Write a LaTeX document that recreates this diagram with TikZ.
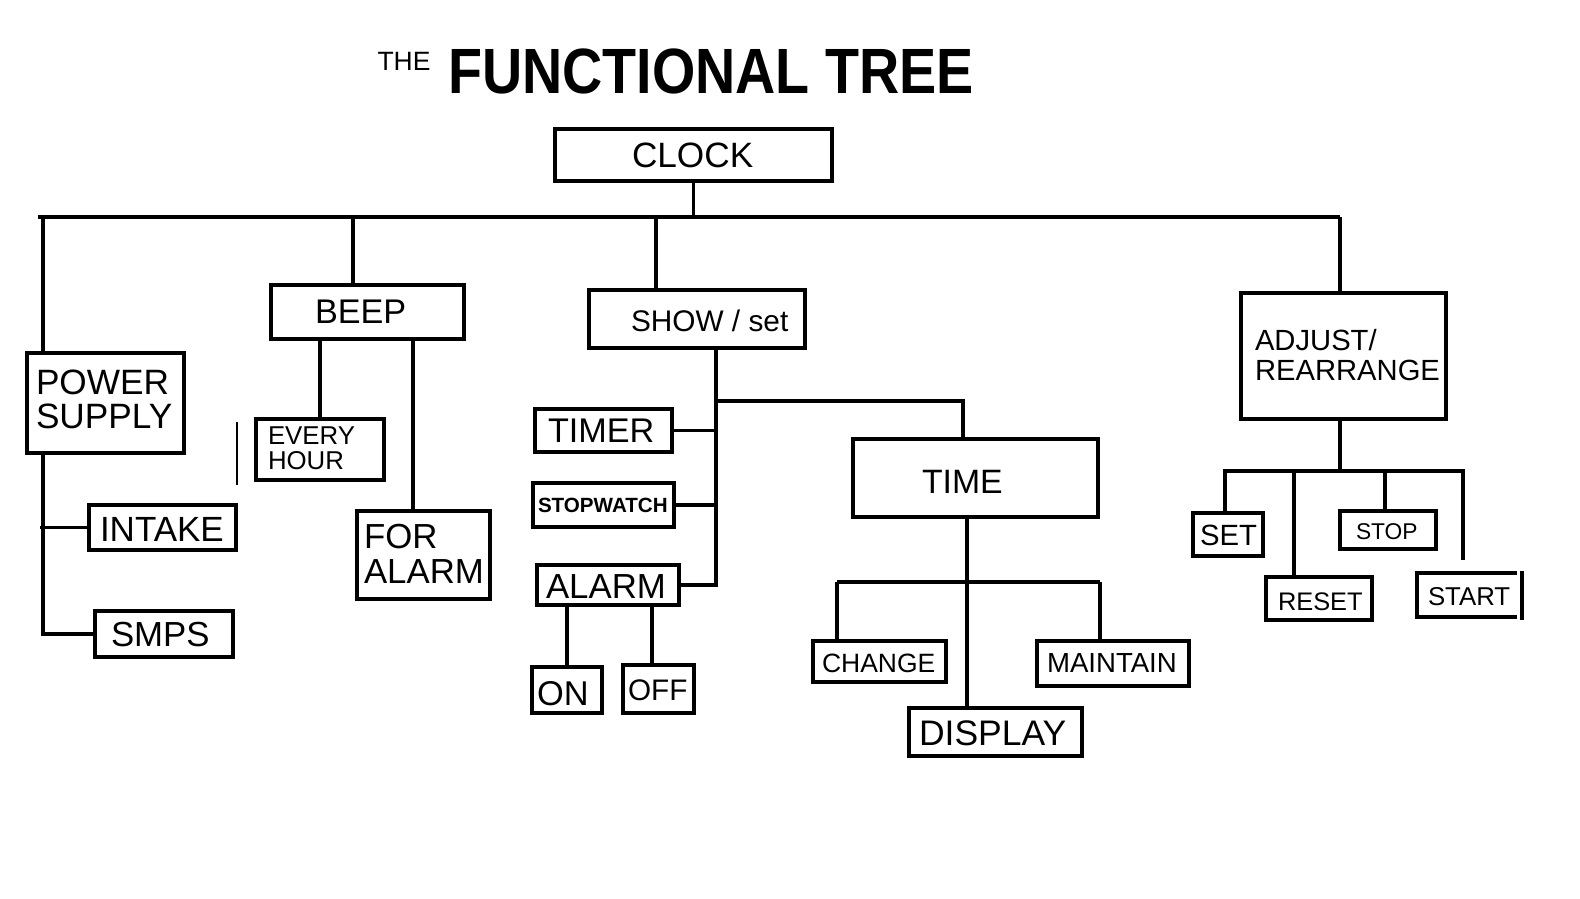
\documentclass[tikz,border=0pt]{standalone}
\usepackage{fontspec}
\setmainfont{Liberation Sans}
\newcommand\fsz[2]{\fontsize{#1}{#2}\selectfont}
\begin{document}
\begin{tikzpicture}[x=1pt,y=-1pt,
  box/.style 2 args={draw, line width=3.2pt, inner sep=0pt, outer sep=0pt, anchor=north west, minimum width=#1, minimum height=#2},
  openbox/.style 2 args={inner sep=0pt, outer sep=0pt, anchor=north west, minimum width=#1, minimum height=#2},
  wire/.style={line width=3.2pt},
  thin/.style={line width=1.2pt},
  txt/.style={inner sep=0pt, outer sep=0pt, anchor=base west, align=left}]
\fill[white] (0,0) rectangle (1580,898);
\useasboundingbox (0,0) rectangle (1580,898);

% title
\node[txt, font=\fsz{26.5}{26}] (the) at (377.5,70) {THE};
\node[txt] (title) at (448,93) {\scalebox{0.87}[1]{\fsz{64}{64}\bfseries FUNCTIONAL TREE}};

% boxes
\node[box={277pt}{52pt}]  (clock)   at (555,129) {};
\node[box={157pt}{100pt}] (ps)      at (27,353) {};
\node[box={147pt}{45pt}]  (intake)  at (89,505) {};
\node[box={138pt}{46pt}]  (smps)    at (95,611) {};
\node[box={193pt}{54pt}]  (beep)    at (271,285) {};
\node[box={128pt}{61pt}]  (evh)     at (256,419) {};
\node[box={133pt}{88pt}]  (fal)     at (357,511) {};
\node[box={216pt}{58pt}]  (show)    at (589,290) {};
\node[box={137pt}{43pt}]  (timer)   at (535,409) {};
\node[box={141pt}{44pt}]  (stopw)   at (533,483) {};
\node[box={142pt}{40pt}]  (alarm)   at (537,565) {};
\node[box={70pt}{46pt}]   (on)      at (532,667) {};
\node[box={71pt}{48pt}]   (off)     at (623,665) {};
\node[box={245pt}{78pt}]  (time)    at (853,439) {};
\node[box={133pt}{41pt}]  (change)  at (813,641) {};
\node[box={152pt}{45pt}]  (maint)   at (1037,641) {};
\node[box={173pt}{48pt}]  (display) at (909,708) {};
\node[box={205pt}{126pt}] (adjust)  at (1241,293) {};
\node[box={70pt}{43pt}]   (set)     at (1193,513) {};
\node[box={106pt}{43pt}]  (reset)   at (1266,577) {};
\node[box={96pt}{38pt}]   (stop)    at (1340,511) {};
\node[openbox={100pt}{44pt}] (start) at (1417,573) {};
\draw[wire] (start.north east) -- (start.north west) -- (start.south west) -- (start.south east);
\draw[wire] ([shift={(5pt,2pt)}]start.north east) -- ([shift={(5pt,-3pt)}]start.south east);

% texts (multi-line nodes: base = last line)
\node[txt, font=\fsz{35.2}{34}] (clock-t)   at (632,167) {CLOCK};
\node[txt, font=\fsz{35.2}{34}] (ps-t)      at (36,428) {POWER\\SUPPLY};
\node[txt, font=\fsz{35}{34}]   (intake-t)  at (100,541) {INTAKE};
\node[txt, font=\fsz{34.8}{34}] (smps-t)    at (111,646) {SMPS};
\node[txt, font=\fsz{34.2}{34}] (beep-t)    at (315,323) {BEEP};
\node[txt, font=\fsz{25.8}{25}] (evh-t)     at (268,469) {EVERY\\HOUR};
\node[txt, font=\fsz{34.8}{35}] (fal-t)     at (364,583) {FOR\\ALARM};
\node[txt, font=\fsz{29.8}{30}] (show-t)    at (631,331) {SHOW / set};
\node[txt, font=\fsz{34.2}{34}] (timer-t)   at (548,442) {TIMER};
\node[txt, font=\fsz{20.6}{20}\bfseries] (stopw-t) at (538,512) {STOPWATCH};
\node[txt, font=\fsz{34.8}{34}] (alarm-t)   at (546,598) {ALARM};
\node[txt, font=\fsz{34.4}{33}] (on-t)      at (537,705) {ON};
\node[txt, font=\fsz{29.7}{29}] (off-t)     at (628,700) {OFF};
\node[txt, font=\fsz{33.8}{33}] (time-t)    at (922,493) {TIME};
\node[txt, font=\fsz{26.5}{26}] (change-t)  at (822,672) {CHANGE};
\node[txt, font=\fsz{35.5}{34}] (display-t) at (919,745) {DISPLAY};
\node[txt, font=\fsz{27.6}{27}] (maint-t)   at (1047,672) {MAINTAIN};
\node[txt, font=\fsz{29.2}{30}] (adjust-t)  at (1255,380) {ADJUST/\\REARRANGE};
\node[txt, font=\fsz{29.3}{28}] (set-t)     at (1200,545) {SET};
\node[txt, font=\fsz{25.4}{25}] (reset-t)   at (1278,610) {RESET};
\node[txt, font=\fsz{22.8}{22}] (stop-t)    at (1356,539) {STOP};
\node[txt, font=\fsz{25.8}{25}] (start-t)   at (1428,605) {START};

% main bus
\coordinate (busL) at (38,217);
\coordinate (busR) at (1340,217);
\draw[wire] (busL) -- (busR);
\draw[wire] (clock.south) -- (clock.south |- busL);

% power supply branch
\coordinate (psT) at ([xshift=16pt]ps.north west);
\coordinate (psB) at ([xshift=16pt]ps.south west);
\draw[wire] (psT) -- (psT |- busL);
\draw[wire] (psB) -- ([yshift=-2pt]psB |- smps.west);
\draw[wire] ([xshift=-3pt]psB |- intake.west) -- (intake.west);
\draw[wire] (psB |- smps.west) -- (smps.west);

% beep branch
\coordinate (beepT) at ([xshift=82pt]beep.north west);
\coordinate (falT) at ([xshift=56pt]fal.north west);
\draw[wire] (beepT) -- (beepT |- busL);
\draw[wire] (evh.north) -- (evh.north |- beep.south);
\draw[wire] (falT) -- (falT |- beep.south);
\draw[thin] (237,422) -- (237,485);

% show / set branch
\coordinate (showT) at ([xshift=67pt]show.north west);
\coordinate (showB) at ([xshift=127pt]show.south west);
\draw[wire] (showT) -- (showT |- busL);
\draw[wire] (showB) -- ([yshift=-1.5pt]showB |- alarm.east);
\draw[wire] (timer.east) -- (timer.east -| showB);
\draw[wire] (stopw.east) -- (stopw.east -| showB);
\draw[wire] (alarm.east) -- (alarm.east -| showB);
\coordinate (timeT) at ([xshift=110pt]time.north west);
\draw[wire] (timeT) -- ++(0,-38) -| (showB);
\coordinate (offT) at ([xshift=29pt]off.north west);
\draw[wire] (on.north) -- (on.north |- alarm.south);
\draw[wire] (offT) -- (offT |- alarm.south);

% time branch
\coordinate (timeB) at ([xshift=114pt]time.south west);
\coordinate (tbus) at ([yshift=-65pt]time.south);
\coordinate (changeT) at ([xshift=24pt]change.north west);
\coordinate (maintT) at ([xshift=63pt]maint.north west);
\coordinate (displayT) at ([xshift=58pt]display.north west);
\draw[wire] (timeB) -- (timeB |- tbus);
\draw[wire] (changeT |- tbus) -- (maintT |- tbus);
\draw[wire] (changeT) -- (changeT |- tbus);
\draw[wire] (maintT) -- (maintT |- tbus);
\draw[wire] (displayT) -- (displayT |- tbus);

% adjust branch
\coordinate (adjT) at ([xshift=99pt]adjust.north west);
\coordinate (adjB) at ([xshift=99pt]adjust.south west);
\coordinate (abus) at ([yshift=-52pt]adjust.south);
\coordinate (setT) at ([xshift=32pt]set.north west);
\coordinate (resetT) at ([xshift=28pt]reset.north west);
\coordinate (stopT) at ([xshift=45pt]stop.north west);
\coordinate (startT) at ([shift={(46pt,13pt)}]start.north west);
\draw[wire] (adjT) -- (adjT |- busR);
\draw[wire] (adjB) -- (adjB |- abus);
\draw[wire] ([xshift=-2pt]setT |- abus) -- ([xshift=2pt]startT |- abus);
\draw[wire] (setT) -- (setT |- abus);
\draw[wire] (resetT) -- (resetT |- abus);
\draw[wire] (stopT) -- (stopT |- abus);
\draw[wire] (startT) -- (startT |- abus);
\end{tikzpicture}
\end{document}
